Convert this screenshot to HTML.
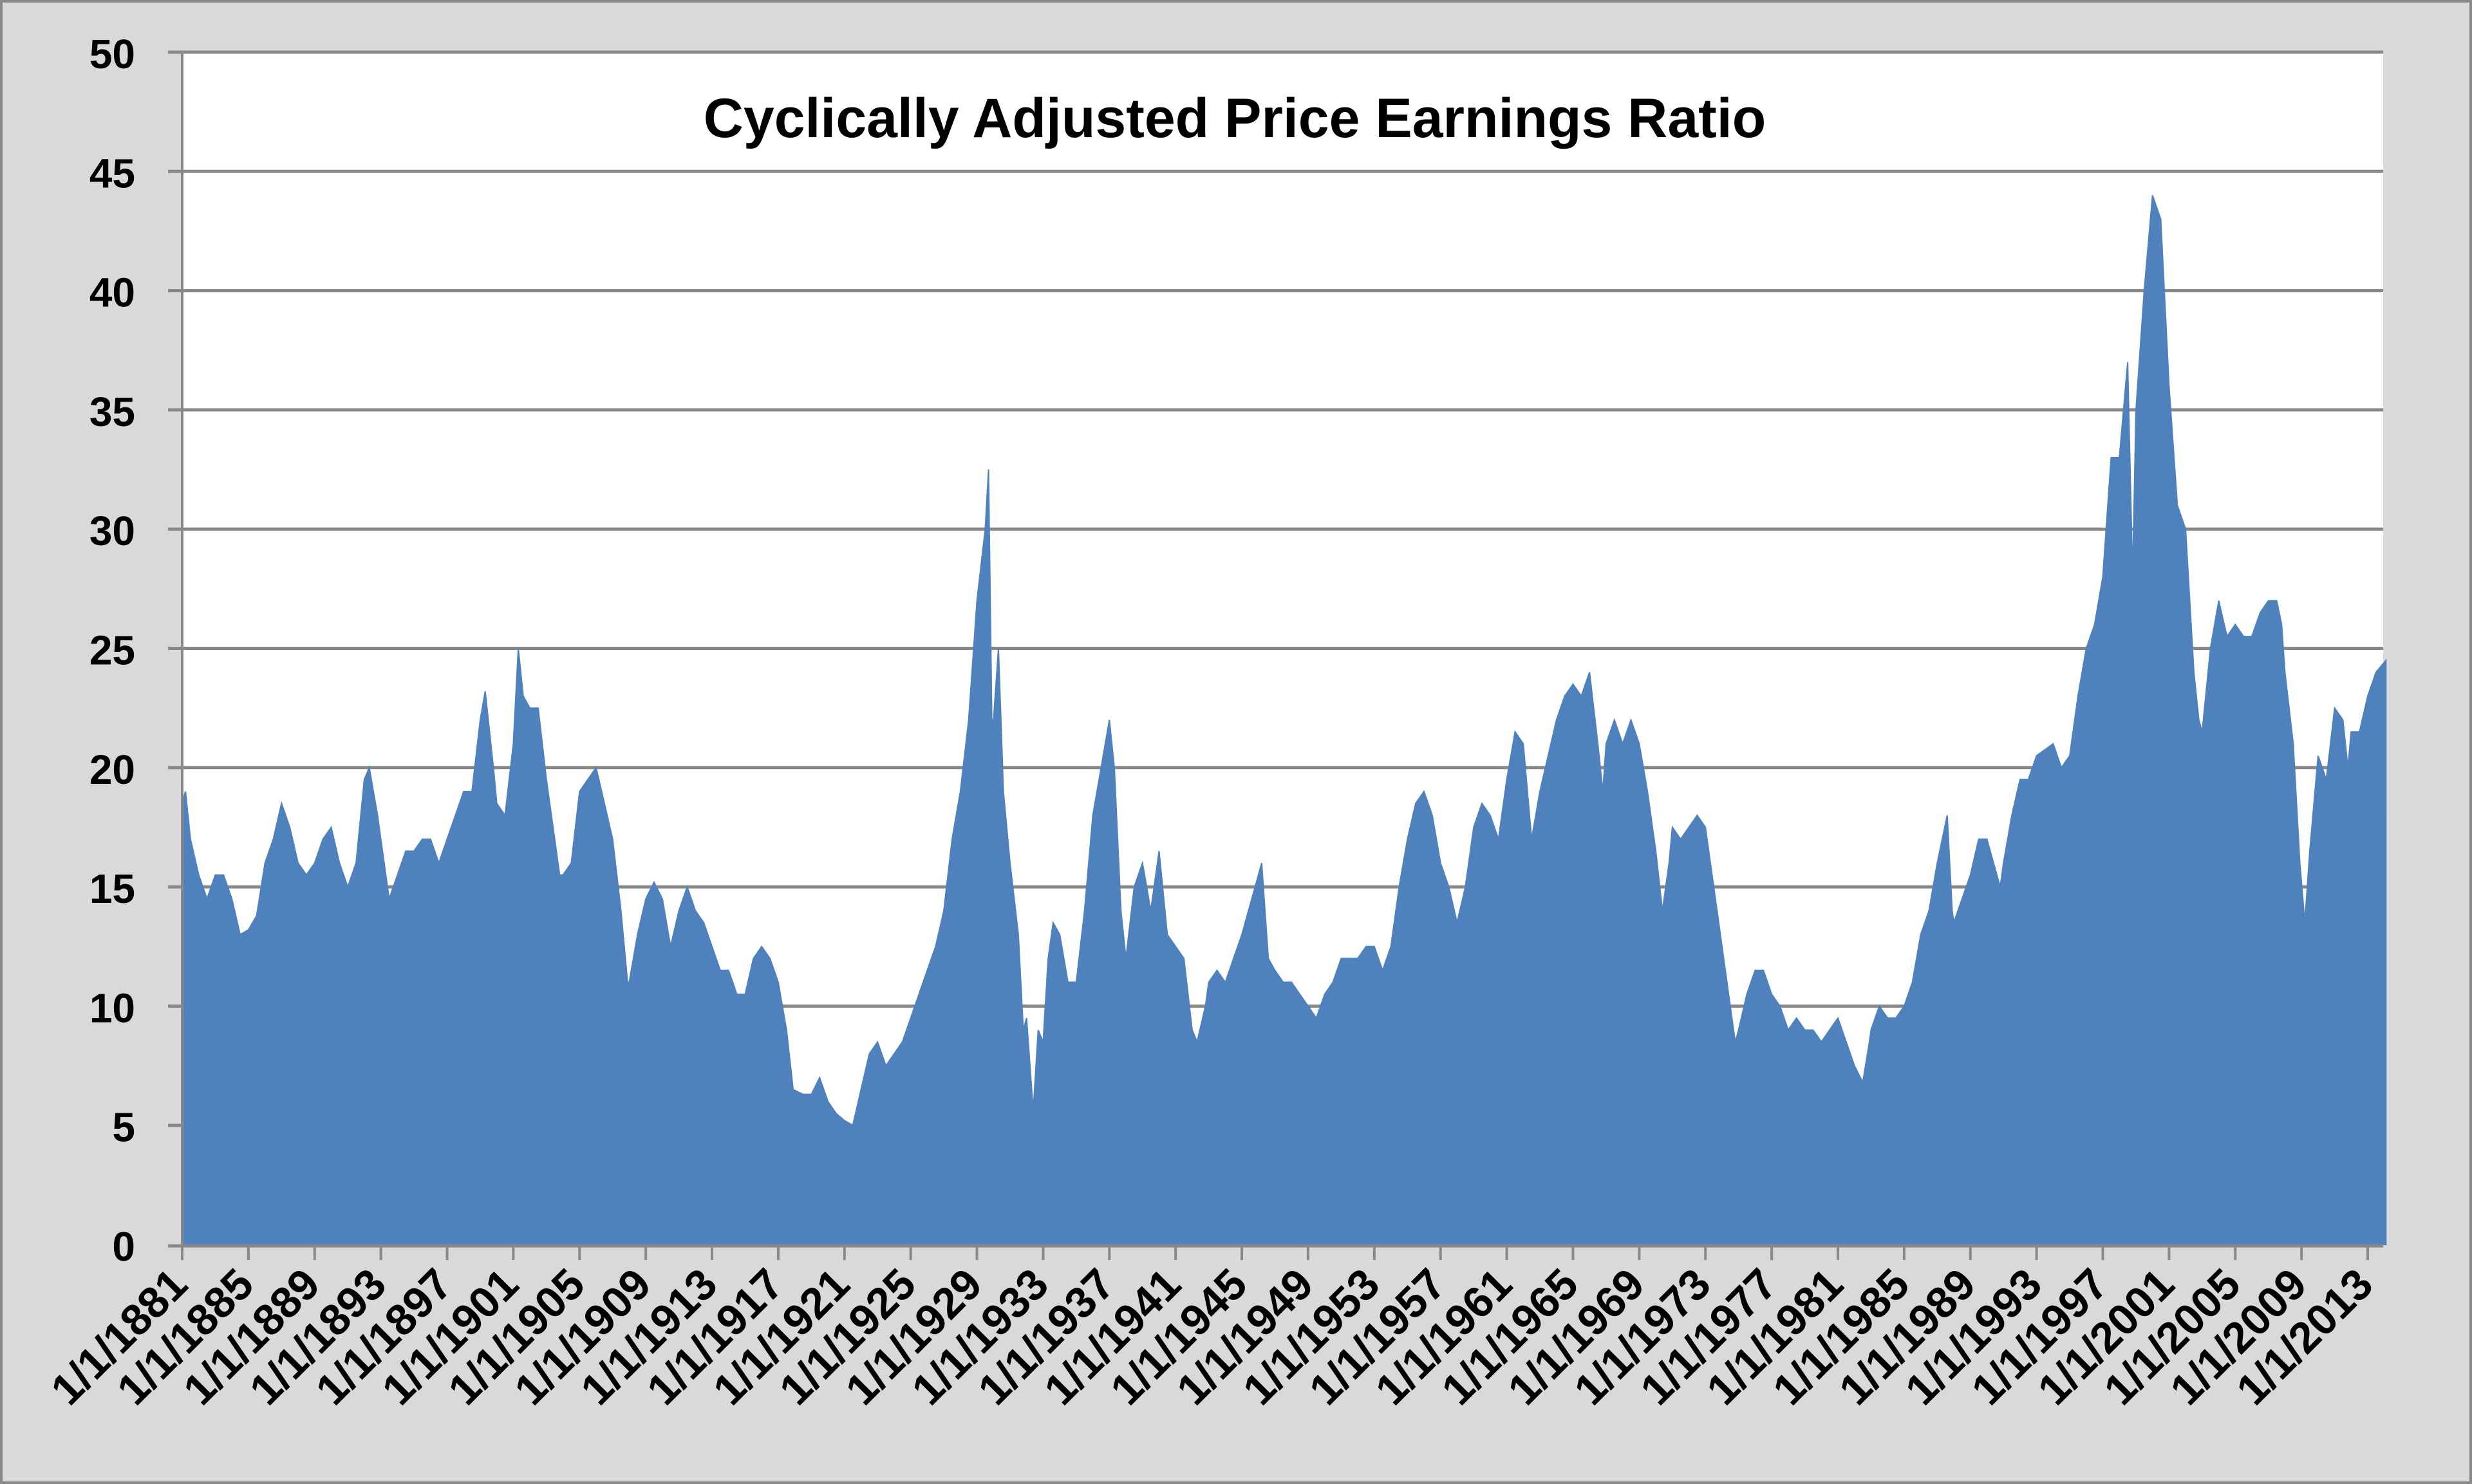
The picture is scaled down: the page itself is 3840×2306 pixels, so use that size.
<!DOCTYPE html>
<html><head><meta charset="utf-8"><style>
html,body{margin:0;padding:0;background:#d9d9d9;}
svg{display:block;font-family:"Liberation Sans",sans-serif;}
</style></head><body>
<svg id="chart" width="3840" height="2306" viewBox="0 0 3840 2306" xmlns="http://www.w3.org/2000/svg">
<rect x="1.5" y="1.5" width="3837" height="2303" fill="#d9d9d9" stroke="#888" stroke-width="5"/>
<rect x="283" y="81" width="3419" height="1853" fill="#ffffff"/>
<g id="grid"></g>
<g id="series"></g>
<g id="axes"></g>
<text x="1918" y="213" text-anchor="middle" font-size="86" font-weight="bold" fill="#000">Cyclically Adjusted Price Earnings Ratio</text>
</svg>
<script>
const years = [1881.0,1881.2,1881.5,1882,1882.5,1883,1883.5,1884,1884.5,1885,1885.5,1886,1886.5,1887,1887.5,1888,1888.5,1889,1889.5,1890,1890.5,1891,1891.5,1892,1892.3,1892.8,1893,1893.5,1894,1894.5,1895,1895.5,1896,1896.5,1897,1897.5,1898,1898.5,1899,1899.3,1899.8,1900,1900.5,1901,1901.3,1901.6,1902,1902.5,1903,1903.5,1903.8,1904,1904.5,1905,1905.5,1906,1906.5,1907,1907.5,1907.9,1908,1908.5,1909,1909.5,1910,1910.5,1911,1911.5,1912,1912.5,1913,1913.5,1914,1914.5,1915,1915.5,1916,1916.5,1917,1917.5,1917.9,1918.5,1919,1919.5,1920,1920.5,1921,1921.5,1922,1922.5,1923,1923.5,1924,1924.5,1925,1925.5,1926,1926.5,1927,1927.5,1928,1928.5,1929,1929.5,1929.7,1929.9,1930,1930.3,1930.6,1931,1931.5,1931.8,1932,1932.4,1932.7,1933,1933.3,1933.6,1934,1934.5,1935,1935.5,1936,1936.5,1937,1937.3,1937.7,1938,1938.5,1939,1939.5,1940,1940.5,1941,1941.5,1942,1942.3,1942.8,1943,1943.5,1944,1944.5,1945,1945.8,1946.2,1946.6,1947,1947.5,1948,1948.5,1949,1949.5,1950,1950.5,1951,1952,1952.5,1953,1953.5,1954,1954.5,1955,1955.5,1956,1956.5,1957,1957.5,1958,1958.5,1959,1959.5,1960,1960.5,1961,1961.5,1962,1962.5,1963,1963.5,1964,1964.5,1965,1965.5,1966,1966.5,1966.8,1967,1967.5,1968,1968.5,1969,1969.5,1970,1970.4,1970.8,1971,1971.5,1972,1972.5,1973,1973.5,1974,1974.5,1974.8,1975,1975.5,1976,1976.5,1977,1977.5,1978,1978.5,1979,1979.5,1980,1980.5,1981,1981.5,1982,1982.5,1982.9,1983,1983.5,1984,1984.5,1985,1985.5,1986,1986.5,1987,1987.6,1987.9,1988,1988.5,1989,1989.5,1990,1990.8,1991,1991.5,1992,1992.5,1993,1994,1994.5,1995,1995.5,1996,1996.5,1997,1997.5,1998,1998.5,1998.8,1999,1999.5,2000,2000.5,2001,2001.5,2002,2002.5,2002.8,2003,2003.5,2004,2004.5,2005,2005.5,2006,2006.5,2007,2007.5,2007.8,2008,2008.5,2008.9,2009.2,2009.5,2010,2010.5,2011,2011.5,2011.8,2012,2012.5,2013,2013.5,2014.1];
const cape = [18.5,19,17,15.5,14.5,15.5,15.5,14.5,13,13.2,13.8,16,17,18.5,17.5,16,15.5,16,17,17.5,16,15,16,19.5,20,18,17,14.5,15.5,16.5,16.5,17,17,16,17,18,19,19,22,23.2,20,18.5,18,21,25,23,22.5,22.5,19.5,17,15.5,15.5,16,19,19.5,20,18.5,17,14,11,11,13,14.5,15.2,14.5,12.5,14,15,14,13.5,12.5,11.5,11.5,10.5,10.5,12,12.5,12,11,9,6.5,6.3,6.3,7,6,5.5,5.2,5,6.5,8,8.5,7.5,8,8.5,9.5,10.5,11.5,12.5,14,17,19,22,27,30,32.5,22,22,25,19,16,13,9,9.5,5.6,9,8.5,12,13.5,13,11,11,14,18,20,22,20,14,12,15,16,14,16.5,13,12.5,12,9,8.5,10,11,11.5,11,12,13,15,16,12,11.5,11,11,10.5,10,9.5,10.5,11,12,12,12.5,12.5,11.5,12.5,15,17,18.5,19,18,16,15,13.5,15,17.5,18.5,18,17,19.5,21.5,21,17,19,20.5,22,23,23.5,23,24,21,19,21,22,21,22,21,19,16.5,14,16,17.5,17,17.5,18,17.5,15,12.5,10,8.5,9,10.5,11.5,11.5,10.5,10,9,9.5,9,9,8.5,9,9.5,8.5,7.5,6.8,8.5,9,10,9.5,9.5,10,11,13,14,16,18,14,13.5,14.5,15.5,17,17,15,16,18,19.5,19.5,20.5,21,20,20.5,23,25,26,28,33,33,37,28,35,40,44,43,36,31,30,24,22,21.5,25,27,25.5,26,25.5,25.5,26.5,27,27,26,24,21,16,13.5,16.5,20.5,19.5,22.5,22,20,21.5,21.5,23,24,24.5];
const yTicks = [0,5,10,15,20,25,30,35,40,45,50];
const xTickYears = [1881,1885,1889,1893,1897,1901,1905,1909,1913,1917,1921,1925,1929,1933,1937,1941,1945,1949,1953,1957,1961,1965,1969,1973,1977,1981,1985,1989,1993,1997,2001,2005,2009,2013];

const NS='http://www.w3.org/2000/svg';
const X0=283, X1=3702, Y0=1934, Y1=81, YR0=1881, PXY=25.72;
function xs(y){return X0+(y-YR0)*PXY;}
function ys(v){return Y0-(v/50)*(Y0-Y1);}
function mk(tag,attrs,parent){const e=document.createElementNS(NS,tag);for(const k in attrs)e.setAttribute(k,attrs[k]);parent.appendChild(e);return e;}
const grid=document.getElementById('grid'), series=document.getElementById('series'), axes=document.getElementById('axes');

yTicks.forEach(t=>{
  if(t>0){
    const g=mk('line',{x1:X0-22,x2:X1,y1:ys(t),y2:ys(t),stroke:'#888','stroke-width':5},grid);
    
    
  }
  const l=mk('text',{x:210,y:ys(t)+25,'text-anchor':'end','font-size':64,'font-weight':'bold',fill:'#000'},axes);
  l.textContent=t;
  
  
});

let d='M'+xs(years[0])+','+Y0;
for(let i=0;i<years.length;i++){d+=' L'+xs(years[i]).toFixed(1)+','+ys(cape[i]).toFixed(1);}
d+=' L'+xs(years[years.length-1])+','+Y0+' Z';
const area=mk('path',{d:d,fill:'#4f81bd',stroke:'#4f81bd','stroke-width':2},series);



const ya=mk('line',{x1:X0,x2:X0,y1:Y1,y2:Y0,stroke:'#888','stroke-width':4},axes);


const xa=mk('line',{x1:X0-22,x2:X1,y1:Y0+2,y2:Y0+2,stroke:'#888','stroke-width':5},axes);



xTickYears.forEach(yr=>{
  const x=xs(yr);
  const tk=mk('line',{x1:x,x2:x,y1:Y0,y2:Y0+24,stroke:'#888','stroke-width':4},axes);
  
  
  const tx=x+12, ty=2000;
  const l=mk('text',{x:tx,y:ty,'text-anchor':'end','font-size':68,'font-weight':'bold',fill:'#000',transform:'rotate(-45 '+tx+' '+ty+')'},axes);
  l.textContent='1/1/'+yr;
  
  
});
</script>
</body></html>
